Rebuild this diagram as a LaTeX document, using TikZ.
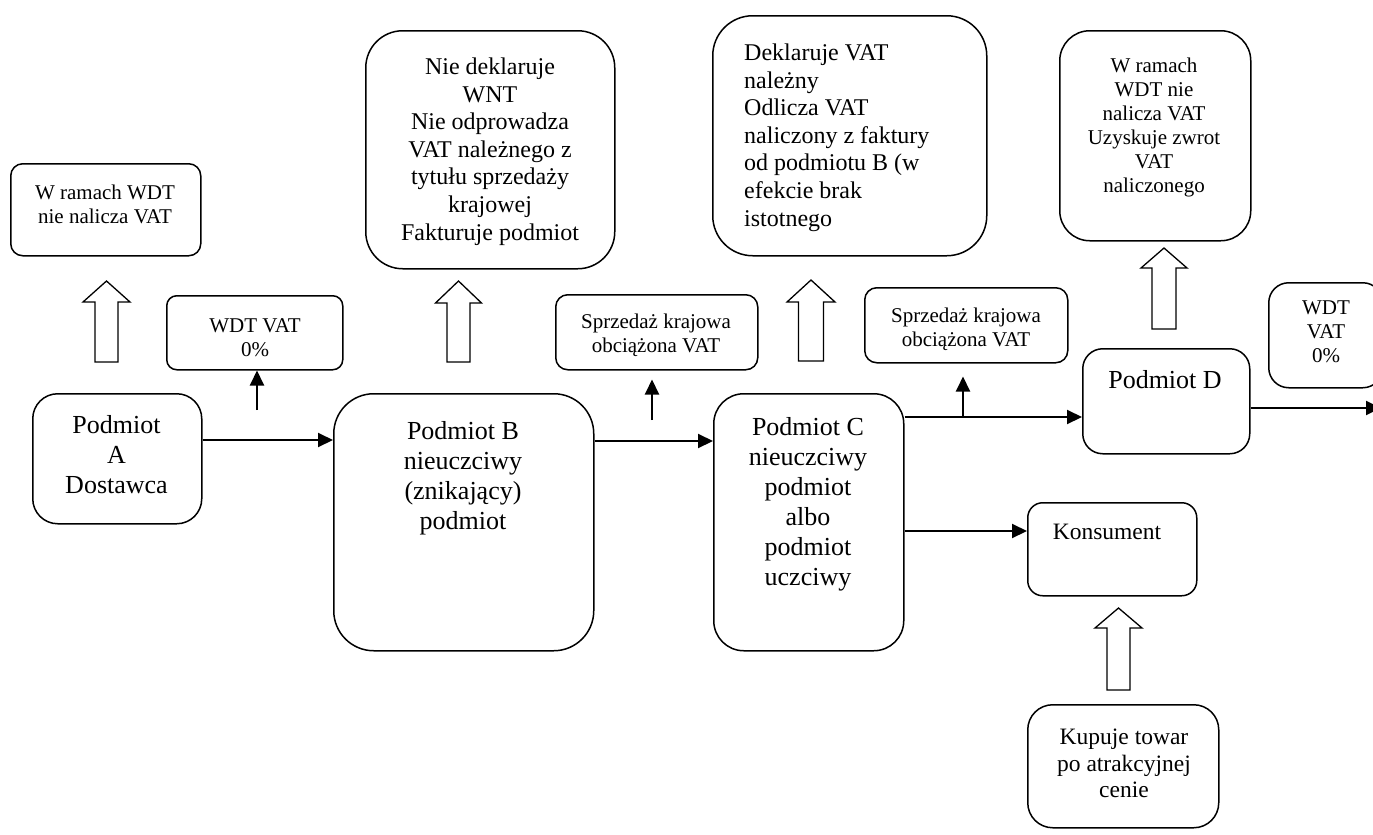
\documentclass[tikz,border=0pt]{standalone}
\usepackage{fontspec}
\setmainfont{Liberation Serif}
\usetikzlibrary{arrows.meta,calc}
\tikzset{
  box/.style={draw, line width=1.5pt, inner sep=0pt, anchor=north west},
  txt/.style={inner sep=0pt, anchor=north, align=center},
  conn/.style={line width=2pt, -{Triangle[length=15pt,width=14pt]}},
  hollow/.style={draw, line width=1.3pt, fill=white, line join=miter},
  fs/.style={font=\fontsize{21}{24}\selectfont},
  fm/.style={font=\fontsize{24}{27.6}\selectfont},
  fk/.style={font=\fontsize{23.5}{26.5}\selectfont},
  fl/.style={font=\fontsize{26}{30}\selectfont}
}
% #1 centre x, #2 half head, #3 half shaft, #4 tip y, #5 head base y, #6 bottom y
\newcommand\hollowup[6]{%
  \draw[hollow] ({#1-#2},#5) -- (#1,#4) -- ({#1+#2},#5) -- ({#1+#3},#5)
    -- ({#1+#3},#6) -- ({#1-#3},#6) -- ({#1-#3},#5) -- cycle;}
\begin{document}
\begin{tikzpicture}[x=1pt,y=-1pt]
\clip (0,0) rectangle (1373,835);
% ---------- boxes ----------
\node[box, rounded corners=12pt, minimum width=190pt, minimum height=92pt] (wa) at (10,163) {};
\node[box, rounded corners=10pt, minimum width=176pt, minimum height=74pt] (wdt1) at (166,295) {};
\node[box, rounded corners=25pt, minimum width=169pt, minimum height=130pt] (a) at (32,393) {};
\node[box, rounded corners=40pt, minimum width=260pt, minimum height=257pt] (b) at (333,393) {};
\node[box, rounded corners=37pt, minimum width=249pt, minimum height=238pt] (btop) at (365,30) {};
\node[box, rounded corners=12pt, minimum width=202pt, minimum height=75pt] (s1) at (555,294) {};
\node[box, rounded corners=30pt, minimum width=190pt, minimum height=257pt] (c) at (713,393) {};
\node[box, rounded corners=40pt, minimum width=274pt, minimum height=240pt] (ctop) at (712,15) {};
\node[box, rounded corners=12pt, minimum width=203pt, minimum height=75pt] (s2) at (864,287) {};
\node[box, rounded corners=20pt, minimum width=167pt, minimum height=105pt] (d) at (1082,348) {};
\node[box, rounded corners=30pt, minimum width=191pt, minimum height=210pt] (dtop) at (1059,30) {};
\node[box, rounded corners=20pt, minimum width=114pt, minimum height=105pt] (wdt2) at (1268,282) {};
\node[box, rounded corners=15pt, minimum width=169pt, minimum height=93pt] (k) at (1027,502) {};
\node[box, rounded corners=25pt, minimum width=191pt, minimum height=123pt] (kup) at (1027,704) {};
% ---------- texts ----------
\node[txt, fs] (twa) at (105,184.7) {W ramach WDT\\nie nalicza VAT};
\node[txt, fs] (twdt1) at (255,318) {WDT VAT\\0\%};
\node[txt, fl] (ta) at (116.5,415.2) {Podmiot\\A\\Dostawca};
\node[txt, fl] (tb) at (463,421.2) {Podmiot B\\nieuczciwy\\(znikający)\\podmiot};
\node[txt, fm] (tbtop) at (490,57.6) {Nie deklaruje\\WNT\\Nie odprowadza\\VAT należnego z\\tytułu sprzedaży\\krajowej\\Fakturuje podmiot};
\node[txt, fs] (ts1) at (656,313.7) {Sprzedaż krajowa\\obciążona VAT};
\node[txt, fl] (tc) at (808,417) {Podmiot C\\nieuczciwy\\podmiot\\albo\\podmiot\\uczciwy};
\node[txt, fm, anchor=north west, align=left] (tctop) at (744,43.6) {Deklaruje VAT\\należny\\Odlicza VAT\\naliczony z faktury\\od podmiotu B (w\\efekcie brak\\istotnego};
\node[txt, fs] (ts2) at (966,307.7) {Sprzedaż krajowa\\obciążona VAT};
\node[txt, fl] (td) at (1165,370.2) {Podmiot D};
\node[txt, fs] (tdtop) at (1154,57.7) {W ramach\\WDT nie\\nalicza VAT\\Uzyskuje zwrot\\VAT\\naliczonego};
\node[txt, fs] (twdt2) at (1326,300.7) {WDT\\VAT\\0\%};
\node[txt, fk] (tk) at (1107,524) {Konsument};
\node[txt, fk] (tkup) at (1124,729) {Kupuje towar\\po atrakcyjnej\\cenie};
% ---------- hollow arrows ----------
\hollowup{106.5}{23.5}{11.5}{281}{302}{362}
\hollowup{458.5}{23}{11.5}{281}{303}{362}
\hollowup{811}{24}{12.5}{280}{302}{361}
\hollowup{1164}{23}{12}{248}{268}{329}
\hollowup{1118.5}{23.5}{11.5}{608}{628}{690}
% ---------- connectors ----------
\coordinate (rowab) at (0,440);
\coordinate (rowbc) at (0,441);
\coordinate (rowcd) at (0,417);
\coordinate (rowck) at (0,531);
\coordinate (out) at (1381,408);
\draw[conn] (a.east |- rowab) -- (b.west |- rowab);
\draw[conn] (b.east |- rowbc) -- (c.west |- rowbc);
\draw[conn] (c.east |- rowcd) -- (d.west |- rowcd);
\draw[conn] (c.east |- rowck) -- (k.west |- rowck);
\draw[conn] (d.east |- out) -- (out);
\coordinate (u1) at (257,410);
\coordinate (u2) at (652,420);
\coordinate (u3) at (963,417);
\draw[conn] (u1) -- (wdt1.south -| u1);
\draw[conn] (u2) -- ($(s1.south -| u2)+(0,9)$);
\draw[conn] (u3) -- ($(s2.south -| u3)+(0,13)$);
\end{tikzpicture}
\end{document}
